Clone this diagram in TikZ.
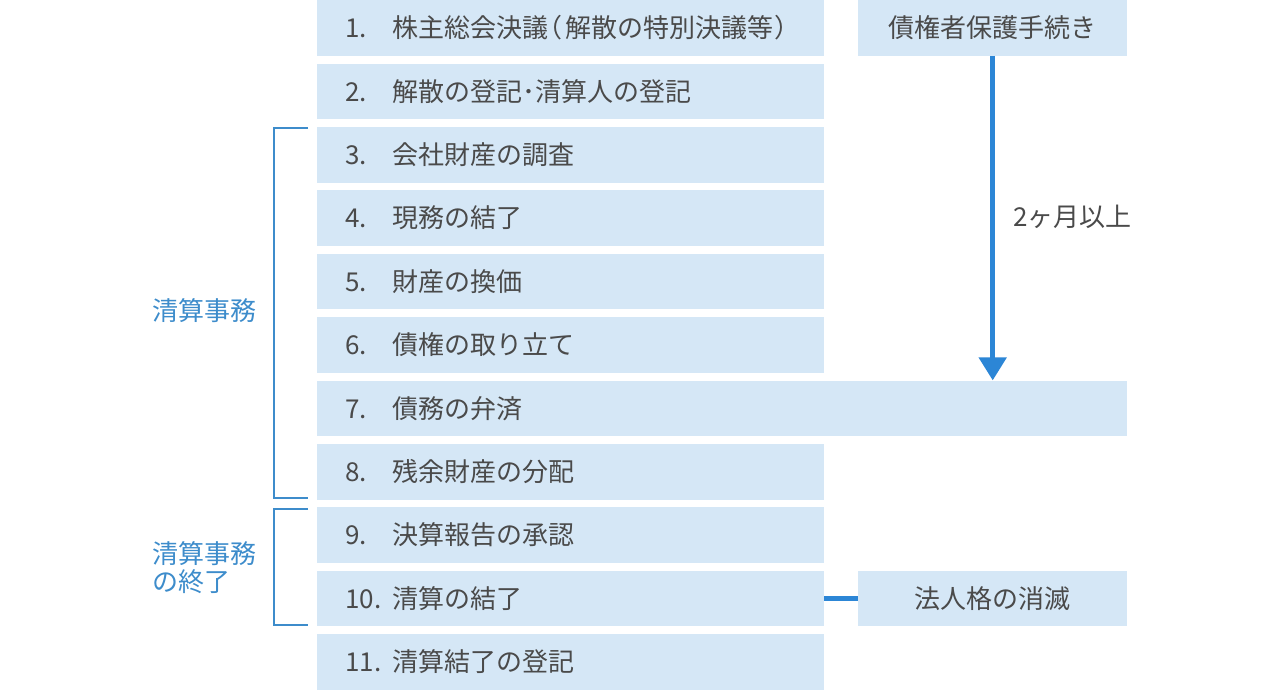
\documentclass[tikz,border=0pt]{standalone}
\usepackage{fontspec}
\setmainfont{Noto Sans CJK JP}
\usetikzlibrary{arrows.meta,calc}
\definecolor{boxfill}{HTML}{D5E7F6}
\definecolor{txtgray}{HTML}{4A4A4A}
\definecolor{arrblue}{HTML}{2C86D6}
\definecolor{brblue}{HTML}{3D8CCB}
\begin{document}
\begin{tikzpicture}[x=1pt,y=-1pt,
  every node/.style={font=\fontsize{26pt}{31pt}\selectfont, text=txtgray},
  stepbox/.style={fill=boxfill, anchor=north west, inner xsep=28pt, inner ysep=0pt,
    minimum height=55.5pt, text width=451pt, align=left},
  widebox/.style={stepbox, text width=754pt},
  sidebox/.style={fill=boxfill, anchor=north west, inner sep=0pt,
    minimum height=55.5pt, minimum width=269pt},
  flowarrow/.style={draw=arrblue, line width=5pt, -{Triangle[width=27pt,length=23pt]}},
  linkline/.style={draw=arrblue, line width=5pt},
  bracketline/.style={draw=brblue, line width=2pt},
  grouplabel/.style={text=brblue, align=left, anchor=west, inner sep=0pt}
]
\useasboundingbox (0,0) rectangle (1280,690);
\newcommand{\num}[1]{\makebox[47pt][l]{#1}}
\node[stepbox] (b1) at (317,0) {\makebox[451pt][l]{\num{1.}株主総会決議\hspace{-12pt}（\hspace{3pt}解散の特別決議等\hspace{1pt}）}};
\node[stepbox] (b2) at (317,63.4) {\num{2.}解散の登記･清算人の登記};
\node[stepbox] (b3) at (317,126.8) {\num{3.}会社財産の調査};
\node[stepbox] (b4) at (317,190.2) {\num{4.}現務の結了};
\node[stepbox] (b5) at (317,253.6) {\num{5.}財産の換価};
\node[stepbox] (b6) at (317,317) {\num{6.}債権の取り立て};
\node[widebox] (b7) at (317,380.4) {\num{7.}債務の弁済};
\node[stepbox] (b8) at (317,443.8) {\num{8.}残余財産の分配};
\node[stepbox] (b9) at (317,507.2) {\num{9.}決算報告の承認};
\node[stepbox] (b10) at (317,570.6) {\num{10.}清算の結了};
\node[stepbox] (b11) at (317,634) {\num{11.}清算結了の登記};
\node[sidebox] (r1) at (858,0) {債権者保護手続き};
\node[sidebox] (r10) at (858,570.6) {法人格の消滅};
\draw[flowarrow] (r1.south) -- (r1.south |- b7.north);
\node[anchor=west, inner sep=0pt] (lab) at (1013,217) {2ヶ月以上};
\draw[linkline] (b10.east) -- (r10.west);
\draw[bracketline] (308,128) -- (273.5,128) -- (273.5,497.5) -- (308,497.5);
\draw[bracketline] (308,509) -- (273.5,509) -- (273.5,625) -- (308,625);
\node[grouplabel] (g1) at (152,311) {清算事務};
\node[grouplabel] (g2) at (152,568) {清算事務\\[-3pt]の終了};
\end{tikzpicture}
\end{document}
